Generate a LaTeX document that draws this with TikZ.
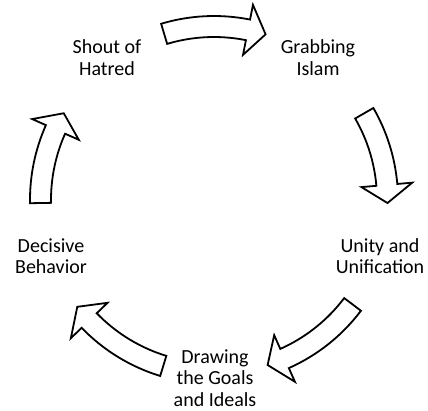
\documentclass[tikz,border=0pt]{standalone}
\usepackage{fontspec}
\setmainfont{Carlito}
\newcommand\lblTop{\rule{0pt}{14pt}}
\newcommand\lblBot{\rule[-4pt]{0pt}{4pt}}
\tikzset{
  lbl/.style={align=center, inner sep=0pt, font=\fontsize{20}{21.5}\selectfont, text=black},
  arrowbox/.style={draw=black, fill=white, line width=1.8pt, line join=miter}
}
% #1 tail angle, #2 tip angle (clockwise)
\newcommand\cyclearrow[2]{%
  \pgfmathsetmacro\headbase{#2+6}%
  \draw[arrowbox] (#1:184pt) arc[start angle=#1, end angle=\headbase, radius=184pt]
    -- (\headbase:199pt) -- (#2:173.5pt) -- (\headbase:148pt) -- (\headbase:163pt)
    arc[start angle=\headbase, end angle=#1, radius=163pt] -- cycle;}
\begin{document}
\begin{tikzpicture}[x=1pt,y=1pt]
\useasboundingbox (0,0) rectangle (428,410);
\node[lbl] (shout) at (107,350.25) {\lblTop Shout of\\Hatred\lblBot};
\node[lbl] (grab) at (318,350.25) {\lblTop Grabbing\\Islam\lblBot};
\node[lbl] (unity) at (380,152.25) {\lblTop Unity and\\Unification\lblBot};
\node[lbl] (draw) at (215,30.5) {\lblTop Drawing\\the Goals\\and Ideals\lblBot};
\node[lbl] (decis) at (51,152.25) {\lblTop Decisive\\Behavior\lblBot};
\begin{scope}[shift={(214,210)}]
  \cyclearrow{106.7}{72.7}
  \cyclearrow{30}{-1}
  \cyclearrow{-37}{-72}
  \cyclearrow{-107}{-142}
  \cyclearrow{181}{150}
\end{scope}
\end{tikzpicture}
\end{document}
